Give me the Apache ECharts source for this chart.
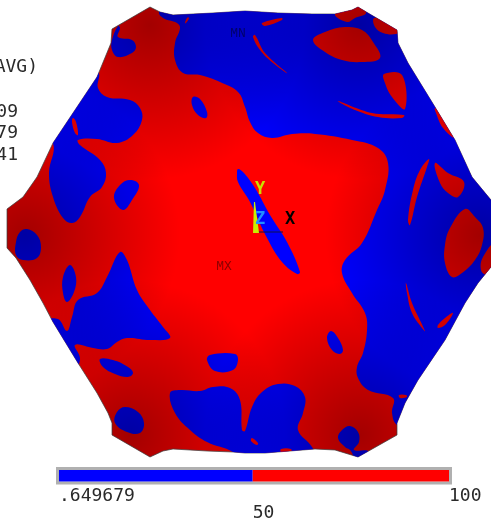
<!DOCTYPE html>
<html><head><meta charset="utf-8">
<style>html,body{margin:0;padding:0;background:#fff}#c{width:491px;height:522px;filter:blur(0.35px)}</style>
<script src="https://cdn.jsdelivr.net/npm/echarts@6/dist/echarts.min.js"></script></head>
<body><div id="c"></div>
<script>
const outline=[[150,7],[112,29],[111,43],[104,60],[97,77],[85,95],[73,113],[53,143],[37,177],[23,197],[7,209],[7,248],[16,258],[30,280],[43,303],[53,322],[78,363],[97,393],[108,413],[112,423],[112,435],[150,457],[163,451],[173,449],[207,451],[233,452],[245,453],[265,453],[315,449],[335,450],[358,457],[397,435],[397,423],[405,403],[418,380],[445,340],[465,303],[478,283],[491,267],[491,200],[472,177],[455,140],[435,107],[408,63],[398,43],[397,30],[368,13],[358,7],[352,10],[335,14],[312,14],[278,13],[245,11],[213,13],[173,15],[160,12]];
const blueMain=[[159,12],[163,18],[177,23],[180,28],[175,43],[175,60],[183,73],[200,75],[220,82],[238,92],[245,107],[250,122],[258,133],[272,138],[292,134],[315,134],[352,140],[378,148],[388,163],[385,190],[377,210],[362,243],[345,260],[342,273],[352,293],[365,313],[367,330],[363,353],[357,367],[358,378],[368,390],[393,398],[392,413],[397,425],[425,440],[520,300],[520,-10],[170,-10]];
const blueLeft=[[98,72],[98,88],[107,97],[130,100],[140,108],[142,120],[133,135],[117,143],[97,139],[78,140],[80,145],[100,160],[106,173],[102,187],[90,197],[80,217],[72,223],[63,218],[53,197],[49,173],[53,143],[30,110],[70,60]];
const blueCorner=[[118,26],[112,40],[112,50],[118,57],[132,53],[136,47],[132,40],[118,37],[120,28]];
const blueOvalA=[[193,97],[200,99],[207,112],[206,118],[198,115],[192,105]];
const blueBlobA=[[130,180],[139,185],[132,200],[123,210],[114,198],[120,185]];
const blueBlobB=[[27,229],[37,235],[41,247],[37,258],[23,260],[16,255],[16,242],[20,232]];
const blueDiagonal=[[238,169],[243,172],[255,188],[270,215],[287,242],[300,272],[297,274],[282,262],[267,238],[250,202],[238,182],[237,173]];
const blueOvalB=[[70,265],[76,277],[74,292],[67,302],[63,293],[63,277]];
const blueLower=[[120,252],[127,260],[137,290],[150,310],[163,327],[170,338],[150,340],[127,338],[117,342],[107,349],[93,348],[75,345],[80,358],[76,367],[60,350],[45,322],[58,319],[67,331],[72,317],[78,300],[97,293],[107,277]];
const blueOvalC=[[100,359],[113,360],[128,367],[133,373],[128,377],[115,374],[103,367]];
const blueBlobC=[[125,407],[138,412],[144,423],[140,433],[127,432],[115,423],[117,412]];
const blueRound=[[210,355],[235,354],[238,360],[233,370],[215,371],[207,360]];
const blueBottom=[[170,393],[180,390],[200,391],[213,387],[230,388],[240,400],[242,430],[245,431],[252,407],[262,392],[278,384],[295,386],[305,397],[303,413],[298,430],[312,447],[318,465],[245,465],[233,452],[207,442],[190,430],[175,413]];
const blueBlobD=[[350,426],[358,432],[359,442],[354,450],[368,451],[358,462],[350,450],[345,447],[338,438],[342,430]];
const blueOvalD=[[331,331],[338,338],[343,350],[340,354],[332,350],[327,338]];
const redA=[[262,23],[282,18],[282,20],[265,26]];
const redB=[[255,35],[265,53],[287,73],[273,63],[260,50],[253,37]];
const redC=[[345,27],[362,30],[373,42],[380,58],[362,62],[342,60],[325,52],[313,40],[325,32]];
const redD=[[335,14],[352,8],[358,4],[366,13],[355,18],[347,22]];
const redE=[[374,18],[385,20],[400,30],[396,34],[383,33],[375,27]];
const redF=[[384,74],[402,75],[405,109],[392,97],[385,83]];
const redG=[[338,101],[372,113],[404,115],[402,118],[378,117],[355,110]];
const redH=[[435,108],[446,120],[455,138],[443,128],[436,113]];
const redI=[[429,159],[427,167],[417,197],[410,225],[408,220],[413,190],[420,170]];
const redJ=[[435,163],[448,173],[464,182],[458,197],[448,193],[440,183]];
const redK=[[465,209],[475,217],[483,228],[482,245],[475,260],[462,273],[452,277],[445,263],[445,245],[450,228]];
const redL=[[495,243],[483,257],[481,270],[487,275],[497,270]];
const redM=[[406,283],[412,303],[425,331],[422,328],[412,313],[407,293]];
const redN=[[453,313],[445,325],[438,328],[438,325],[445,318]];
const redO=[[399,395],[406,395],[407,397],[400,398]];
const redP=[[252,438],[258,443],[257,445],[251,441]];
const redQ=[[281,449],[291,449],[291,452],[281,452]];
const redR=[[187,18],[189,18],[186,23],[185,23]];
const redS=[[73,118],[76,122],[78,135],[75,133],[72,122]];
const redT=[[80,98],[84,91],[84,93],[81,98]];
const blueRegions=[blueMain,blueLeft,blueCorner,blueOvalA,blueBlobA,blueBlobB,blueDiagonal,blueOvalB,blueLower,blueOvalC,blueBlobC,blueRound,blueBottom,blueBlobD,blueOvalD];
const redRegions=[redA,redB,redC,redD,redE,redF,redG,redH,redI,redJ,redK,redL,redM,redN,redO,redP,redQ,redR,redS,redT];
const shadeCentres=[[150,25],[25,235],[130,435],[360,25],[480,235],[360,435]];
const sideTexts=[['(AVG)',38,67],['09',18,112],['79',18,133],['41',18,155]];
const nodeTexts=[['MN',238,34,'#00006a'],['MX',224,267,'#8a0000']];
const triadTexts=[['Y',260,190,'#c8e000'],['Z',260,220,'#2090ff'],['X',290,220,'#000000']];
const triadAxisX=[[255,232],[283,232]];
const triadAxisY=[[254,202],[255,202],[259,233],[253,233]];
const barEdges=[0.649679,50,100];
const barColors=['#0000ff','#ff0000'];
const barTicks=[0.649679,50,100];
const barLabels=['.649679','\n50','100'];

const el=document.getElementById('c');
const chart=echarts.init(el,null,{renderer:'canvas'});
function px(api,pts){return pts.map(p=>api.coord(p));}
function clip(api){return {type:'polygon',shape:{points:px(api,outline)}};}
function regionSeries(regions,color){
  return {type:'custom',xAxisIndex:0,yAxisIndex:0,silent:true,clip:false,animation:false,
    data:regions.map((r,i)=>[i]),encode:{x:0},
    renderItem:(params,api)=>({type:'polygon',
      shape:{points:px(api,regions[params.dataIndex]),smooth:0.4},
      style:{fill:color},clipPath:clip(api)})};
}
const base={type:'custom',xAxisIndex:0,yAxisIndex:0,silent:true,clip:false,animation:false,data:[[0]],encode:{x:0},
  renderItem:(p,api)=>({type:'polygon',shape:{points:px(api,outline)},style:{fill:'#ff0000',stroke:'#555',lineWidth:0.8}})};
const shade={type:'custom',xAxisIndex:0,yAxisIndex:0,silent:true,clip:false,animation:false,
  data:shadeCentres.map((c,i)=>[i]),encode:{x:0},
  renderItem:(p,api)=>{const c=api.coord(shadeCentres[p.dataIndex]);
    return {type:'polygon',shape:{points:px(api,outline)},
      style:{fill:new echarts.graphic.RadialGradient(c[0],c[1],155,[
        {offset:0,color:'rgba(0,0,0,0.36)'},{offset:1,color:'rgba(0,0,0,0)'}],true)}};}};
const triad={type:'custom',xAxisIndex:0,yAxisIndex:0,silent:true,clip:false,animation:false,data:[[0]],encode:{x:0},
  renderItem:(p,api)=>({type:'group',children:[
    {type:'polyline',shape:{points:px(api,triadAxisX)},style:{stroke:'#10104a',lineWidth:1,fill:'none'}},
    {type:'polygon',shape:{points:px(api,triadAxisY)},style:{fill:'#c8f000'}}
  ]})};
function textSeries(items,font,defaultFill,align){
  return {type:'custom',xAxisIndex:0,yAxisIndex:0,silent:true,clip:false,animation:false,
    data:items.map((t,i)=>[i]),encode:{x:0},
    renderItem:(p,api)=>{const t=items[p.dataIndex];const c=api.coord([t[1],t[2]]);
      return {type:'text',style:{text:t[0],x:c[0],y:c[1],font:font,fill:t[3]||defaultFill,align:align,verticalAlign:'middle'}};}};
}
const colorBar={type:'custom',xAxisIndex:1,yAxisIndex:1,silent:true,clip:false,animation:false,
  data:barColors.map((c,i)=>[i]),encode:{x:0},
  renderItem:(p,api)=>{const i=p.dataIndex;const a=api.coord([barEdges[i],0]),b=api.coord([barEdges[i+1],1]);
    return {type:'rect',shape:{x:a[0],y:b[1],width:b[0]-a[0],height:a[1]-b[1]},style:{fill:barColors[i]}};}};
const barFrame={type:'custom',xAxisIndex:1,yAxisIndex:1,silent:true,clip:false,animation:false,data:[[0]],encode:{x:0},
  renderItem:(p,api)=>{const a=api.coord([barEdges[0],0]),b=api.coord([barEdges[2],1]);
    return {type:'rect',shape:{x:a[0]-1.5,y:b[1]-1.5,width:b[0]-a[0]+3,height:a[1]-b[1]+3},style:{fill:'none',stroke:'#b0b0b0',lineWidth:3}};}};
chart.setOption({animation:false,backgroundColor:'#fff',
  grid:[{left:0,right:0,top:0,bottom:0},
        {left:59,width:390,top:470,height:13}],
  xAxis:[{type:'value',gridIndex:0,min:0,max:491,show:false},
         {type:'value',gridIndex:1,min:barEdges[0],max:100,
          axisLine:{show:false},axisTick:{show:false},splitLine:{show:false},
          axisLabel:{show:true,customValues:barTicks,align:'left',margin:6,lineHeight:17,verticalAlign:'top',
            alignMinLabel:'left',alignMaxLabel:'left',showMinLabel:true,showMaxLabel:true,hideOverlap:false,
            fontFamily:'DejaVu Sans Mono',fontSize:18,color:'#2a2a2a',
            formatter:v=>barLabels[barTicks.indexOf(v)]}}],
  yAxis:[{type:'value',gridIndex:0,min:0,max:522,inverse:true,show:false},
         {type:'value',gridIndex:1,min:0,max:1,show:false}],
  series:[base,regionSeries(blueRegions,'#0000ff'),regionSeries(redRegions,'#ff0000'),shade,triad,
    textSeries(sideTexts,'18px "DejaVu Sans Mono"','#2a2a2a','right'),
    textSeries(nodeTexts,'13px "Liberation Mono"','#000','center'),
    textSeries(triadTexts,'bold 17px "DejaVu Sans Mono"','#000','center'),
    barFrame,colorBar]});
</script></body></html>
